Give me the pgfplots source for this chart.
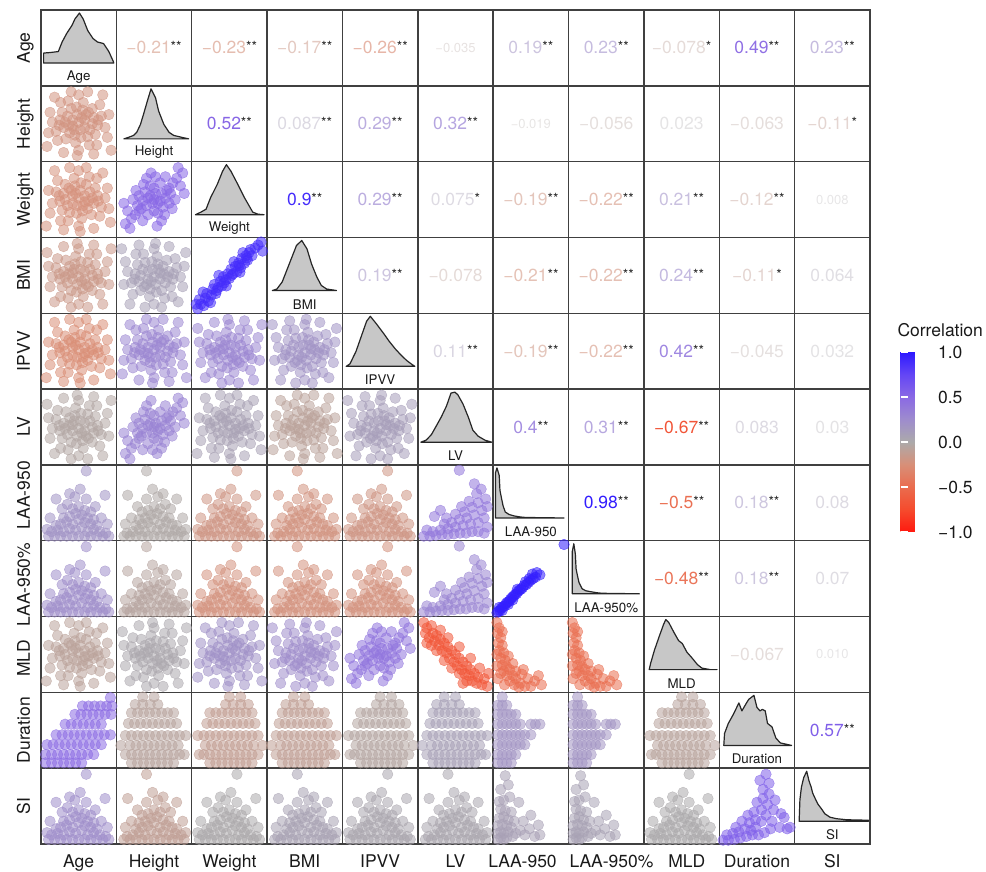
\documentclass[border=0pt]{standalone}
\usepackage{pgfplots}
\pgfplotsset{compat=1.18}
\usepackage{pgfplotstable}
\usepackage{fontspec}
\setmainfont{TeX Gyre Heros}

\pgfplotsset{colormap={corr}{rgb255=(255,25,15) rgb255=(245,75,45) rgb255=(234,108,78) rgb255=(216,143,120) rgb255=(172,170,170) rgb255=(158,140,205) rgb255=(138,105,228) rgb255=(100,70,245) rgb255=(45,25,255)}}

% ---------- point clouds (unit cell coordinates) ----------
\pgfplotstableread{
x y
0.50 0.52
0.42 0.47
0.58 0.55
0.35 0.60
0.65 0.42
0.45 0.35
0.55 0.68
0.30 0.45
0.70 0.58
0.48 0.62
0.38 0.38
0.62 0.33
0.52 0.42
0.25 0.55
0.75 0.48
0.40 0.70
0.60 0.62
0.33 0.30
0.68 0.70
0.20 0.40
0.80 0.60
0.46 0.25
0.56 0.78
0.28 0.65
0.72 0.36
0.15 0.52
0.85 0.45
0.36 0.80
0.64 0.22
0.50 0.88
0.50 0.15
0.22 0.28
0.78 0.75
0.12 0.65
0.88 0.32
0.42 0.55
0.58 0.45
0.32 0.52
0.68 0.50
0.54 0.58
0.44 0.42
0.26 0.78
0.74 0.22
0.10 0.38
0.90 0.62
0.18 0.85
0.82 0.88
0.08 0.20
0.93 0.15
0.40 0.92
0.62 0.92
0.30 0.12
0.70 0.10
0.47 0.72
0.53 0.32
0.37 0.48
0.63 0.65
0.24 0.48
0.76 0.55
0.48 0.08
}\Tblob

\pgfplotstableread{
x y
0.50 0.50
0.40 0.42
0.60 0.58
0.30 0.35
0.70 0.65
0.45 0.55
0.55 0.45
0.35 0.48
0.65 0.52
0.25 0.30
0.75 0.72
0.50 0.65
0.50 0.35
0.38 0.60
0.62 0.40
0.20 0.25
0.80 0.78
0.42 0.30
0.58 0.72
0.30 0.55
0.70 0.45
0.15 0.35
0.85 0.68
0.35 0.22
0.65 0.80
0.45 0.68
0.55 0.32
0.28 0.42
0.72 0.58
0.12 0.18
0.88 0.85
0.40 0.78
0.60 0.22
0.22 0.50
0.78 0.50
0.48 0.45
0.52 0.58
0.33 0.38
0.67 0.62
0.18 0.12
0.82 0.92
0.46 0.85
0.54 0.15
0.10 0.45
0.90 0.58
0.42 0.52
0.58 0.48
0.26 0.62
0.74 0.38
0.36 0.70
0.64 0.30
0.52 0.80
}\Tpos

\pgfplotstableread{
x y
0.08 0.06
0.12 0.12
0.10 0.18
0.16 0.10
0.18 0.20
0.22 0.16
0.20 0.26
0.26 0.24
0.28 0.32
0.32 0.26
0.30 0.38
0.35 0.34
0.38 0.42
0.40 0.36
0.42 0.48
0.45 0.44
0.48 0.52
0.50 0.46
0.52 0.58
0.55 0.52
0.58 0.62
0.60 0.55
0.62 0.66
0.65 0.60
0.66 0.72
0.70 0.66
0.72 0.76
0.74 0.70
0.76 0.80
0.80 0.76
0.78 0.84
0.84 0.86
0.88 0.90
0.92 0.94
0.94 0.82
0.15 0.28
0.25 0.14
0.36 0.50
0.46 0.36
0.56 0.68
0.64 0.54
0.68 0.80
0.06 0.12
0.33 0.30
0.43 0.40
0.53 0.50
0.63 0.63
0.73 0.73
}\Tlin

\pgfplotstableread{
x y
0.08 0.92
0.12 0.85
0.10 0.78
0.18 0.88
0.15 0.72
0.20 0.78
0.22 0.68
0.25 0.75
0.28 0.62
0.30 0.70
0.32 0.55
0.35 0.65
0.38 0.52
0.40 0.60
0.42 0.45
0.45 0.55
0.48 0.40
0.50 0.50
0.52 0.35
0.55 0.45
0.58 0.30
0.60 0.40
0.62 0.25
0.65 0.35
0.68 0.22
0.70 0.30
0.72 0.15
0.75 0.25
0.78 0.12
0.80 0.20
0.85 0.10
0.88 0.18
0.92 0.08
0.25 0.55
0.35 0.42
0.45 0.32
0.55 0.25
0.65 0.15
0.18 0.62
0.40 0.72
0.55 0.60
0.70 0.45
0.82 0.32
0.30 0.82
0.60 0.12
0.94 0.25
0.12 0.65
}\Tneg

\pgfplotstableread{
x y
0.10 0.06
0.18 0.06
0.26 0.06
0.34 0.06
0.42 0.06
0.50 0.06
0.58 0.06
0.66 0.06
0.74 0.06
0.82 0.06
0.90 0.06
0.14 0.12
0.22 0.14
0.30 0.12
0.38 0.16
0.46 0.14
0.54 0.18
0.62 0.12
0.70 0.15
0.78 0.12
0.86 0.10
0.26 0.22
0.34 0.25
0.42 0.22
0.50 0.28
0.58 0.24
0.66 0.22
0.74 0.20
0.20 0.20
0.38 0.32
0.46 0.36
0.54 0.34
0.62 0.30
0.30 0.30
0.70 0.28
0.42 0.42
0.58 0.40
0.50 0.45
0.35 0.48
0.66 0.38
0.12 0.30
0.80 0.30
0.45 0.58
0.60 0.55
0.28 0.42
0.72 0.45
0.52 0.68
0.38 0.62
0.88 0.22
0.08 0.15
0.20 0.55
0.85 0.60
0.60 0.92
}\Tbottom

\pgfplotstableread{
x y
0.08 0.06
0.16 0.06
0.24 0.07
0.32 0.08
0.40 0.08
0.48 0.09
0.56 0.10
0.64 0.10
0.72 0.12
0.80 0.12
0.88 0.10
0.92 0.18
0.20 0.12
0.30 0.14
0.40 0.16
0.50 0.18
0.60 0.20
0.70 0.22
0.80 0.24
0.88 0.30
0.45 0.24
0.55 0.28
0.65 0.30
0.75 0.34
0.85 0.40
0.62 0.38
0.72 0.44
0.80 0.50
0.90 0.55
0.78 0.62
0.84 0.68
0.68 0.52
0.50 0.35
0.38 0.30
0.30 0.40
0.22 0.32
0.92 0.45
0.58 0.45
0.75 0.75
0.55 0.93
0.12 0.14
0.35 0.22
}\Tbotinc

\pgfplotstableread{
x y
0.05 0.05
0.07 0.07
0.09 0.08
0.11 0.11
0.13 0.13
0.15 0.14
0.17 0.17
0.19 0.19
0.21 0.20
0.23 0.23
0.25 0.25
0.27 0.27
0.29 0.29
0.31 0.30
0.33 0.33
0.35 0.35
0.37 0.36
0.39 0.38
0.41 0.41
0.44 0.42
0.47 0.45
0.50 0.48
0.53 0.50
0.56 0.52
0.52 0.56
0.58 0.58
0.62 0.55
0.48 0.50
0.43 0.46
0.08 0.12
0.12 0.08
0.20 0.16
0.26 0.22
0.32 0.36
0.94 0.95
}\Ttline

\pgfplotstableread{
x y
0.20 0.07
0.28 0.07
0.36 0.07
0.44 0.07
0.52 0.07
0.60 0.07
0.68 0.07
0.76 0.07
0.12 0.18
0.20 0.18
0.28 0.18
0.36 0.18
0.44 0.18
0.52 0.18
0.60 0.18
0.68 0.18
0.76 0.18
0.84 0.18
0.18 0.30
0.26 0.30
0.34 0.30
0.42 0.30
0.50 0.30
0.58 0.30
0.66 0.30
0.74 0.30
0.82 0.30
0.12 0.43
0.20 0.43
0.28 0.43
0.36 0.43
0.44 0.43
0.52 0.43
0.60 0.43
0.68 0.43
0.76 0.43
0.84 0.43
0.16 0.59
0.24 0.59
0.32 0.59
0.40 0.59
0.48 0.59
0.56 0.59
0.64 0.59
0.72 0.59
0.80 0.59
0.20 0.73
0.28 0.73
0.36 0.73
0.44 0.73
0.52 0.73
0.60 0.73
0.68 0.73
0.76 0.73
0.25 0.84
0.35 0.84
0.45 0.84
0.55 0.84
0.06 0.30
0.92 0.43
0.50 0.94
0.90 0.18
0.35 0.94
}\Tstripes

\pgfplotstableread{
x y
0.06 0.07
0.14 0.07
0.22 0.07
0.30 0.07
0.38 0.07
0.46 0.07
0.54 0.07
0.06 0.18
0.14 0.18
0.22 0.18
0.30 0.18
0.38 0.18
0.46 0.18
0.54 0.18
0.62 0.18
0.70 0.18
0.08 0.31
0.16 0.31
0.24 0.31
0.32 0.31
0.40 0.31
0.48 0.31
0.56 0.31
0.64 0.31
0.72 0.31
0.80 0.31
0.20 0.44
0.28 0.44
0.36 0.44
0.44 0.44
0.52 0.44
0.60 0.44
0.68 0.44
0.76 0.44
0.84 0.44
0.92 0.44
0.32 0.58
0.40 0.58
0.48 0.58
0.56 0.58
0.64 0.58
0.72 0.58
0.80 0.58
0.45 0.71
0.53 0.71
0.61 0.71
0.69 0.71
0.77 0.71
0.85 0.71
0.93 0.71
0.55 0.82
0.63 0.82
0.71 0.82
0.79 0.82
0.87 0.82
0.94 0.82
0.92 0.93
}\Tagedur

\pgfplotstableread{
x y
0.06 0.07
0.12 0.07
0.18 0.07
0.24 0.07
0.06 0.18
0.12 0.18
0.18 0.18
0.24 0.18
0.30 0.18
0.06 0.31
0.12 0.31
0.18 0.31
0.24 0.31
0.30 0.31
0.36 0.31
0.42 0.31
0.06 0.44
0.12 0.44
0.18 0.44
0.24 0.44
0.30 0.44
0.36 0.44
0.42 0.44
0.50 0.44
0.06 0.58
0.12 0.58
0.18 0.58
0.24 0.58
0.30 0.58
0.36 0.58
0.50 0.58
0.56 0.58
0.62 0.58
0.06 0.71
0.12 0.71
0.18 0.71
0.24 0.71
0.30 0.71
0.06 0.83
0.12 0.83
0.18 0.83
0.12 0.94
}\Tstripleft

\pgfplotstableread{
x y
0.05 0.05
0.12 0.05
0.20 0.06
0.28 0.08
0.36 0.10
0.10 0.12
0.18 0.14
0.26 0.16
0.34 0.20
0.42 0.18
0.40 0.28
0.48 0.22
0.48 0.32
0.46 0.42
0.50 0.55
0.56 0.30
0.56 0.45
0.58 0.60
0.58 0.72
0.62 0.38
0.64 0.52
0.66 0.66
0.66 0.80
0.70 0.30
0.72 0.45
0.74 0.58
0.80 0.22
0.82 0.40
0.86 0.35
0.90 0.20
0.94 0.22
0.30 0.30
0.38 0.38
0.22 0.22
0.62 0.92
0.54 0.84
0.44 0.12
0.52 0.12
0.60 0.15
0.68 0.20
}\Tsidur

\pgfplotstableread{
x y
0.06 0.06
0.10 0.08
0.14 0.06
0.18 0.08
0.06 0.14
0.10 0.16
0.14 0.14
0.20 0.16
0.06 0.24
0.12 0.26
0.18 0.24
0.24 0.22
0.08 0.34
0.14 0.36
0.20 0.32
0.28 0.30
0.10 0.46
0.16 0.44
0.24 0.42
0.08 0.56
0.14 0.58
0.22 0.62
0.10 0.72
0.20 0.78
0.16 0.90
0.30 0.14
0.36 0.18
0.42 0.12
0.48 0.20
0.55 0.10
0.62 0.12
0.60 0.25
0.40 0.30
0.34 0.55
0.50 0.38
0.26 0.10
}\Tcorner

\pgfplotstableread{
x y
0.05 0.92
0.08 0.85
0.06 0.78
0.10 0.72
0.07 0.65
0.12 0.62
0.08 0.55
0.14 0.52
0.10 0.45
0.16 0.42
0.12 0.36
0.18 0.34
0.14 0.28
0.22 0.30
0.18 0.22
0.26 0.22
0.22 0.15
0.30 0.18
0.28 0.10
0.36 0.12
0.34 0.07
0.42 0.08
0.50 0.08
0.38 0.24
0.46 0.18
0.55 0.15
0.60 0.22
0.64 0.10
0.05 0.50
0.05 0.35
0.10 0.25
0.20 0.48
0.26 0.38
0.30 0.28
0.12 0.80
0.06 0.18
0.15 0.10
0.40 0.30
}\Tldec

% ---------- densities (x in cell units, h relative height) ----------
\pgfplotstableread{
x h
0.035 0
0.035 0.20
0.12 0.21
0.23 0.23
0.28 0.42
0.34 0.59
0.41 0.75
0.45 0.88
0.51 1.00
0.56 0.88
0.62 0.65
0.69 0.49
0.75 0.42
0.83 0.39
0.90 0.23
0.96 0.03
0.965 0
}\dAge
\pgfplotstableread{
x h
0.10 0
0.16 0.03
0.23 0.07
0.27 0.13
0.32 0.29
0.36 0.49
0.41 0.75
0.46 1.00
0.52 0.82
0.56 0.56
0.63 0.29
0.70 0.13
0.76 0.07
0.87 0.03
0.96 0
}\dHeight
\pgfplotstableread{
x h
0.05 0
0.12 0.05
0.19 0.11
0.25 0.34
0.34 0.61
0.41 0.87
0.46 1.00
0.52 0.87
0.61 0.61
0.70 0.34
0.81 0.05
0.88 0.01
0.96 0
}\dWeight
\pgfplotstableread{
x h
0.07 0
0.13 0.03
0.20 0.17
0.26 0.40
0.33 0.67
0.39 0.90
0.46 1.00
0.53 0.83
0.59 0.53
0.66 0.27
0.72 0.10
0.79 0.03
0.92 0
}\dBMI
\pgfplotstableread{
x h
0.05 0
0.10 0.05
0.18 0.30
0.25 0.60
0.32 0.90
0.37 1.00
0.45 0.85
0.55 0.65
0.62 0.50
0.70 0.35
0.78 0.22
0.85 0.12
0.92 0.04
0.96 0
}\dIPVV
\pgfplotstableread{
x h
0.04 0
0.11 0.04
0.18 0.15
0.24 0.31
0.31 0.50
0.38 0.72
0.44 0.98
0.49 1.00
0.53 0.95
0.60 0.76
0.67 0.50
0.73 0.24
0.80 0.12
0.89 0.04
0.98 0
}\dLV
\pgfplotstableread{
x h
0.03 0
0.03 0.90
0.05 1.00
0.08 0.85
0.09 0.55
0.11 0.40
0.13 0.25
0.16 0.12
0.21 0.07
0.28 0.04
0.36 0.02
0.43 0.01
0.94 0
}\dLAA
\pgfplotstableread{
x h
0.05 0
0.05 0.85
0.07 1.00
0.09 0.80
0.10 0.50
0.12 0.35
0.14 0.22
0.18 0.10
0.23 0.06
0.30 0.04
0.38 0.02
0.45 0.01
0.94 0
}\dLAAp
\pgfplotstableread{
x h
0.07 0
0.09 0.13
0.14 0.39
0.20 0.65
0.26 0.90
0.29 1.00
0.33 0.94
0.40 0.74
0.46 0.58
0.51 0.52
0.57 0.35
0.64 0.23
0.71 0.10
0.77 0.03
0.88 0
0.97 0
}\dMLD
\pgfplotstableread{
x h
0.06 0
0.07 0.24
0.12 0.44
0.19 0.63
0.26 0.85
0.30 0.69
0.35 0.82
0.39 0.92
0.46 1.00
0.50 0.76
0.54 0.69
0.57 0.72
0.61 0.69
0.64 0.44
0.70 0.37
0.75 0.15
0.81 0.05
0.96 0
}\dDur
\pgfplotstableread{
x h
0.06 0
0.07 0.43
0.09 0.68
0.12 0.87
0.16 1.00
0.19 0.81
0.22 0.68
0.24 0.56
0.28 0.43
0.31 0.34
0.36 0.24
0.40 0.15
0.47 0.08
0.56 0.05
0.69 0.03
0.98 0.02
0.98 0
}\dSI

\pgfplotsset{pts/.style={only marks, scatter, mark=*, mark size=5.3pt,
  scatter/use mapped color={draw=mapped color, fill=mapped color, draw opacity=0.7, fill opacity=0.55}}}
\newcommand\SC[4]{\addplot[pts, point meta={#4}] table[x expr=\thisrow{x}+#1, y expr=\thisrow{y}+#2] {#3};}
\newcommand\SCm[4]{\addplot[pts, point meta={#4}] table[x expr=1-\thisrow{x}+#1, y expr=\thisrow{y}+#2] {#3};}
\newcommand\SCv[4]{\addplot[pts, point meta={#4}] table[x expr=\thisrow{x}+#1, y expr=1-\thisrow{y}+#2] {#3};}
\newcommand\SCb[4]{\addplot[pts, point meta={#4}] table[x expr=1-\thisrow{x}+#1, y expr=1-\thisrow{y}+#2] {#3};}
\newcommand\Dens[4]{\addplot[fill=black!22, draw=black!85, line width=1.2pt, line join=round] table[x expr=\thisrow{x}+#1, y expr=0.30+0.66*\thisrow{h}+#2] {#3} -- cycle;
  \node[font=\fontsize{13.3}{13.3}\selectfont, text=black!90] at (axis cs:#1+0.5,#2+0.12) {#4};}
\newcommand\Tcol[1]{\pgfmathtruncatemacro\cmv{(#1+1)*500}\pgfmathtruncatemacro\amt{min(100,28+140*abs(#1))}\pgfplotscolormapdefinemappedcolor{\cmv}\colorlet{tc}{mapped color!\amt!white}}
\newcommand\UC[6]{\node[inner sep=0pt, font=\fontsize{#6}{#6}\selectfont] at (axis cs:#1,#2) {\Tcol{#3}\textcolor{tc}{#4}\raisebox{2pt}{\fontsize{14}{14}\selectfont\color{black!85}#5}};}
\newcommand\VB[2]{\node[anchor=base, font=\fontsize{17.5}{17.5}\selectfont, text=black!90] at ([yshift=-24pt]axis cs:#1,0) {#2};}
\newcommand\VL[2]{\node[anchor=base, rotate=90, font=\fontsize{17.5}{17.5}\selectfont, text=black!90] at ([xshift=-11pt]axis cs:0,#1) {#2};}

\begin{document}
\begin{tikzpicture}
\useasboundingbox (-41pt,-28pt) rectangle (945pt,844pt);
\begin{axis}[
  at={(0pt,0pt)}, anchor=south west,
  scale only axis, width=829pt, height=834pt,
  xmin=0, xmax=11, ymin=0, ymax=11,
  xtick={1,...,10}, ytick={1,...,10}, xticklabels={}, yticklabels={},
  major tick length=0pt, grid=major,
  grid style={draw=black!75, line width=1.4pt},
  axis line style={draw=black!75, line width=1.4pt},
  axis on top, clip=false,
  colormap name=corr, point meta min=-1, point meta max=1,
  colorbar,
  colorbar style={at={(parent axis.north east)}, anchor=north west, xshift=22pt, yshift=-342pt,
    scale only axis, width=34pt, height=180pt,
    ytick={-1,-0.5,0,0.5,1}, yticklabels={−1.0,−0.5,0.0,0.5,1.0},
    yticklabel style={font=\fontsize{17.5}{17.5}\selectfont, text=black!90},
    major tick length=7pt, tick align=inside, tick pos=both, ticklabel pos=right,
    tick style={draw=white, line width=1.3pt},
    axis line style={draw=none}},
]
% ----- lower triangle -----
\SC{0}{9}{\Tblob}{-0.21}
\SCm{0}{8}{\Tblob}{-0.23}
\SC{1}{8}{\Tpos}{0.52}
\SCv{0}{7}{\Tblob}{-0.17}
\SCb{1}{7}{\Tblob}{0.087}
\SC{2}{7}{\Tlin}{0.9}
\SCm{0}{6}{\Tblob}{-0.26}
\SC{1}{6}{\Tblob}{0.29}
\SCv{2}{6}{\Tblob}{0.29}
\SCb{3}{6}{\Tblob}{0.19}
\SCv{0}{5}{\Tblob}{-0.035}
\SCb{1}{5}{\Tpos}{0.32}
\SCm{2}{5}{\Tblob}{0.075}
\SC{3}{5}{\Tblob}{-0.078}
\SCb{4}{5}{\Tblob}{0.11}
\SC{0}{4}{\Tbottom}{0.19}
\SCm{1}{4}{\Tbottom}{-0.019}
\SC{2}{4}{\Tbottom}{-0.19}
\SCm{3}{4}{\Tbottom}{-0.21}
\SC{4}{4}{\Tbottom}{-0.19}
\SC{5}{4}{\Tbotinc}{0.4}
\SC{0}{3}{\Tbottom}{0.23}
\SCm{1}{3}{\Tbottom}{-0.056}
\SC{2}{3}{\Tbottom}{-0.22}
\SCm{3}{3}{\Tbottom}{-0.22}
\SC{4}{3}{\Tbottom}{-0.22}
\SC{5}{3}{\Tbotinc}{0.31}
\SC{6}{3}{\Ttline}{0.98}
\SCm{0}{2}{\Tblob}{-0.078}
\SCv{1}{2}{\Tblob}{0.023}
\SC{2}{2}{\Tblob}{0.21}
\SCb{3}{2}{\Tblob}{0.24}
\SC{4}{2}{\Tpos}{0.42}
\SC{5}{2}{\Tneg}{-0.67}
\SC{6}{2}{\Tldec}{-0.5}
\SC{7}{2}{\Tldec}{-0.48}
\SC{0}{1}{\Tagedur}{0.49}
\SC{1}{1}{\Tstripes}{-0.063}
\SCm{2}{1}{\Tstripes}{-0.12}
\SC{3}{1}{\Tstripes}{-0.11}
\SCm{4}{1}{\Tstripes}{-0.045}
\SC{5}{1}{\Tstripes}{0.083}
\SC{6}{1}{\Tstripleft}{0.18}
\SC{7}{1}{\Tstripleft}{0.18}
\SCm{8}{1}{\Tstripes}{-0.067}
\SC{0}{0}{\Tbottom}{0.23}
\SCm{1}{0}{\Tbottom}{-0.11}
\SC{2}{0}{\Tbottom}{0.008}
\SCm{3}{0}{\Tbottom}{0.064}
\SC{4}{0}{\Tbottom}{0.032}
\SCm{5}{0}{\Tbottom}{0.03}
\SC{6}{0}{\Tcorner}{0.08}
\SC{7}{0}{\Tcorner}{0.07}
\SC{8}{0}{\Tbottom}{0.010}
\SC{9}{0}{\Tsidur}{0.57}
% ----- diagonal -----
\Dens{0}{10}{\dAge}{Age}
\Dens{1}{9}{\dHeight}{Height}
\Dens{2}{8}{\dWeight}{Weight}
\Dens{3}{7}{\dBMI}{BMI}
\Dens{4}{6}{\dIPVV}{IPVV}
\Dens{5}{5}{\dLV}{LV}
\Dens{6}{4}{\dLAA}{LAA-950}
\Dens{7}{3}{\dLAAp}{LAA-950\%}
\Dens{8}{2}{\dMLD}{MLD}
\Dens{9}{1}{\dDur}{Duration}
\Dens{10}{0}{\dSI}{SI}
% ----- upper triangle -----
\UC{1.5}{10.5}{-0.21}{−0.21}{**}{17.5}
\UC{2.5}{10.5}{-0.23}{−0.23}{**}{17.5}
\UC{3.5}{10.5}{-0.17}{−0.17}{**}{17.5}
\UC{4.5}{10.5}{-0.26}{−0.26}{**}{17.5}
\UC{5.5}{10.5}{-0.035}{−0.035}{}{13}
\UC{6.5}{10.5}{0.19}{0.19}{**}{17.5}
\UC{7.5}{10.5}{0.23}{0.23}{**}{17.5}
\UC{8.5}{10.5}{-0.078}{−0.078}{*}{17.5}
\UC{9.5}{10.5}{0.49}{0.49}{**}{17.5}
\UC{10.5}{10.5}{0.23}{0.23}{**}{17.5}
\UC{2.5}{9.5}{0.52}{0.52}{**}{17.5}
\UC{3.5}{9.5}{0.087}{0.087}{**}{17.5}
\UC{4.5}{9.5}{0.29}{0.29}{**}{17.5}
\UC{5.5}{9.5}{0.32}{0.32}{**}{17.5}
\UC{6.5}{9.5}{-0.019}{−0.019}{}{13}
\UC{7.5}{9.5}{-0.056}{−0.056}{}{17.5}
\UC{8.5}{9.5}{0.023}{0.023}{}{17.5}
\UC{9.5}{9.5}{-0.063}{−0.063}{}{17.5}
\UC{10.5}{9.5}{-0.11}{−0.11}{*}{17.5}
\UC{3.5}{8.5}{0.9}{0.9}{**}{17.5}
\UC{4.5}{8.5}{0.29}{0.29}{**}{17.5}
\UC{5.5}{8.5}{0.075}{0.075}{*}{17.5}
\UC{6.5}{8.5}{-0.19}{−0.19}{**}{17.5}
\UC{7.5}{8.5}{-0.22}{−0.22}{**}{17.5}
\UC{8.5}{8.5}{0.21}{0.21}{**}{17.5}
\UC{9.5}{8.5}{-0.12}{−0.12}{**}{17.5}
\UC{10.5}{8.5}{0.008}{0.008}{}{13}
\UC{4.5}{7.5}{0.19}{0.19}{**}{17.5}
\UC{5.5}{7.5}{-0.078}{−0.078}{}{17.5}
\UC{6.5}{7.5}{-0.21}{−0.21}{**}{17.5}
\UC{7.5}{7.5}{-0.22}{−0.22}{**}{17.5}
\UC{8.5}{7.5}{0.24}{0.24}{**}{17.5}
\UC{9.5}{7.5}{-0.11}{−0.11}{*}{17.5}
\UC{10.5}{7.5}{0.064}{0.064}{}{17.5}
\UC{5.5}{6.5}{0.11}{0.11}{**}{17.5}
\UC{6.5}{6.5}{-0.19}{−0.19}{**}{17.5}
\UC{7.5}{6.5}{-0.22}{−0.22}{**}{17.5}
\UC{8.5}{6.5}{0.42}{0.42}{**}{17.5}
\UC{9.5}{6.5}{-0.045}{−0.045}{}{17.5}
\UC{10.5}{6.5}{0.032}{0.032}{}{17.5}
\UC{6.5}{5.5}{0.4}{0.4}{**}{17.5}
\UC{7.5}{5.5}{0.31}{0.31}{**}{17.5}
\UC{8.5}{5.5}{-0.67}{−0.67}{**}{17.5}
\UC{9.5}{5.5}{0.083}{0.083}{}{17.5}
\UC{10.5}{5.5}{0.03}{0.03}{}{17.5}
\UC{7.5}{4.5}{0.98}{0.98}{**}{17.5}
\UC{8.5}{4.5}{-0.5}{−0.5}{**}{17.5}
\UC{9.5}{4.5}{0.18}{0.18}{**}{17.5}
\UC{10.5}{4.5}{0.08}{0.08}{}{17.5}
\UC{8.5}{3.5}{-0.48}{−0.48}{**}{17.5}
\UC{9.5}{3.5}{0.18}{0.18}{**}{17.5}
\UC{10.5}{3.5}{0.07}{0.07}{}{17.5}
\UC{9.5}{2.5}{-0.067}{−0.067}{}{17.5}
\UC{10.5}{2.5}{0.010}{0.010}{}{13}
\UC{10.5}{1.5}{0.57}{0.57}{**}{17.5}
% ----- variable names -----
\VB{0.5}{Age}\VB{1.5}{Height}\VB{2.5}{Weight}\VB{3.5}{BMI}\VB{4.5}{IPVV}\VB{5.5}{LV}
\VB{6.39}{LAA-950}\VB{7.57}{LAA-950\%}\VB{8.57}{MLD}\VB{9.5}{Duration}\VB{10.5}{SI}
\VL{10.5}{Age}\VL{9.5}{Height}\VL{8.5}{Weight}\VL{7.5}{BMI}\VL{6.5}{IPVV}\VL{5.5}{LV}
\VL{4.6}{LAA-950}\VL{3.42}{LAA-950\%}\VL{2.45}{MLD}\VL{1.5}{Duration}\VL{0.5}{SI}
\end{axis}
\node[anchor=base west, font=\fontsize{17.5}{17.5}\selectfont, text=black!90] at (853pt,507pt) {Correlation};
\end{tikzpicture}
\end{document}
